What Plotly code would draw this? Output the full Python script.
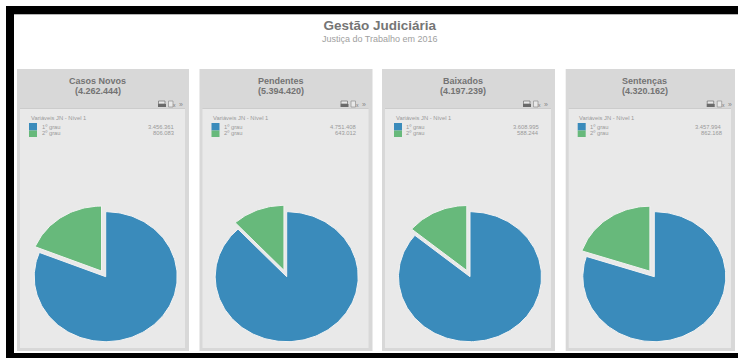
import math
import plotly.graph_objects as go

W, H = 738, 358

# Dados por painel
panel_titles = ["Casos Novos", "Pendentes", "Baixados", "Sentenças"]
panel_totals = ["(4.262.444)", "(5.394.420)", "(4.197.239)", "(4.320.162)"]
first_degree = [3456361, 4751408, 3608995, 3457994]
second_degree = [806083, 643012, 588244, 862168]
first_labels = ["3.456.361", "4.751.408", "3.608.995", "3.457.994"]
second_labels = ["806.083", "643.012", "588.244", "862.168"]
degree_names = ["1º grau", "2º grau"]

BLUE = "#3a8bbb"
GREEN = "#67b97b"
EDGE = "#f2f2f2"
TEXT = "#7a7a7a"

# Geometria dos painéis, em pixels
panel_left = [17, 199.5, 382, 565.7]
panel_right = [189, 372.5, 555, 735]
pie_cx = [105.7, 286.7, 470, 654.3]
pie_cy = 276.7
RX, RY = 71.5, 65
SLICE_OFFSET = 0.105


def px(x):
    return x / W


def py(y):
    return 1 - y / H


def rect(x0, y0, x1, y1, fill, line=None, width=0):
    return dict(
        type="rect", xref="paper", yref="paper", layer="below",
        x0=px(x0), x1=px(x1), y0=py(y0), y1=py(y1),
        fillcolor=fill, line=dict(color=line or fill, width=width),
    )


def label(x, y, text, size, color=TEXT, anchor="center", bold=False):
    return dict(
        xref="paper", yref="paper", x=px(x), y=py(y), text=f"<b>{text}</b>" if bold else text,
        showarrow=False, xanchor=anchor, yanchor="middle",
        font=dict(family="Liberation Sans", size=size, color=color),
    )


def sector(start, end, dx=0.0, dy=0.0):
    # Setor do círculo unitário, ângulos no sentido horário a partir do topo
    steps = max(int(abs(end - start) / 1.5), 2)
    xs, ys = [dx], [dy]
    for i in range(steps + 1):
        a = math.radians(start + (end - start) * i / steps)
        xs.append(dx + math.sin(a))
        ys.append(dy + math.cos(a))
    xs.append(dx)
    ys.append(dy)
    return xs, ys


shapes = [
    # Moldura preta
    rect(6, 6, W, 14, "#000000"),
    rect(6, 6, 14, 358, "#000000"),
    rect(6, 353, W, 358, "#000000"),
    rect(14, 14, W, 15, "#b5b5b5"),
]
annotations = [
    # Título e subtítulo no mesmo bloco de texto
    label(
        380, 31,
        '<span style="font-size:13.5px;color:#757575"><b>Gestão Judiciária</b></span><br>'
        "Justiça do Trabalho em 2016",
        9, "#a0a0a0",
    ),
]

fig = go.Figure()

for i, title in enumerate(panel_titles):
    left, right = panel_left[i], panel_right[i]
    off = left - panel_left[0]

    # Cabeçalho e corpo do painel
    shapes.append(rect(left, 69, right, 351, "#d8d8d8"))
    shapes.append(rect(left + 3, 109, right - 4, 348, "#e9e9e9"))
    shapes.append(rect(left + 3, 108, right - 4, 109, "#cccccc"))

    centre = (left + right) / 2 - 5.5
    annotations.append(label(centre, 80.5, title, 9, "#737373", bold=True))
    annotations.append(label(centre, 91, panel_totals[i], 9, "#737373", bold=True))

    # Legenda
    annotations.append(label(28.5 + off, 118, "Variáveis JN - Nível 1", 5.8, "#999999", "left"))
    annotations.append(label(39.5 + off, 126.5, degree_names[0], 5.8, "#999999", "left"))
    annotations.append(label(39.5 + off, 133, degree_names[1], 5.8, "#999999", "left"))
    annotations.append(label(175.5 + off, 126.5, first_labels[i], 5.8, "#999999", "right"))
    annotations.append(label(175.5 + off, 133, second_labels[i], 5.8, "#999999", "right"))
    shapes.append(rect(29 + off, 123, 37 + off, 130.5, BLUE))
    shapes.append(rect(29 + off, 130.5, 37 + off, 137, GREEN))

    # Ícones do cabeçalho
    shapes.append(rect(158.5 + off, 101, 165 + off, 104, "#e8e8e8", "#707070", 0.7))
    shapes.append(rect(158 + off, 104, 166 + off, 107, "#6a6a6a"))
    shapes.append(rect(168.5 + off, 101, 173 + off, 107, "#e8e8e8", "#909090", 0.7))
    annotations.append(label(174.5 + off, 105.5, "x", 5, "#777777"))
    annotations.append(label(181 + off, 104, "»", 7, "#888888"))

    # Eixos do gráfico de setores: a unidade vale RX e RY pixels
    suffix = "" if i == 0 else str(i + 1)
    half_w, half_h = 80, 76
    cx = pie_cx[i]
    fig.update_layout({
        f"xaxis{suffix}": dict(
            domain=[px(cx - half_w), px(cx + half_w)],
            range=[-half_w / RX, half_w / RX], visible=False, fixedrange=True,
        ),
        f"yaxis{suffix}": dict(
            domain=[py(pie_cy + half_h), py(pie_cy - half_h)],
            range=[-half_h / RY, half_h / RY], visible=False, fixedrange=True,
        ),
    })

    total = first_degree[i] + second_degree[i]
    blue_sweep = 360 * first_degree[i] / total
    mid = math.radians((blue_sweep + 360) / 2)
    dx, dy = SLICE_OFFSET * math.sin(mid), SLICE_OFFSET * math.cos(mid)

    for name, value, colour, start, end, sx, sy in [
        (degree_names[0], first_degree[i], BLUE, 0, blue_sweep, 0, 0),
        (degree_names[1], second_degree[i], GREEN, blue_sweep, 360, dx, dy),
    ]:
        xs, ys = sector(start, end, sx, sy)
        fig.add_trace(go.Scatter(
            x=xs, y=ys, mode="lines", fill="toself", fillcolor=colour,
            line=dict(color=EDGE, width=1), name=name, showlegend=False,
            text=f"{title} - {name}: {value:,}".replace(",", "."), hoverinfo="text",
            xaxis=f"x{suffix}", yaxis=f"y{suffix}",
        ))

fig.update_layout(
    width=W, height=H, margin=dict(l=0, r=0, t=0, b=0),
    paper_bgcolor="#ffffff", plot_bgcolor="rgba(0,0,0,0)",
    shapes=shapes, annotations=annotations, showlegend=False,
)

fig.write_html("out.html", config={"displayModeBar": False})
